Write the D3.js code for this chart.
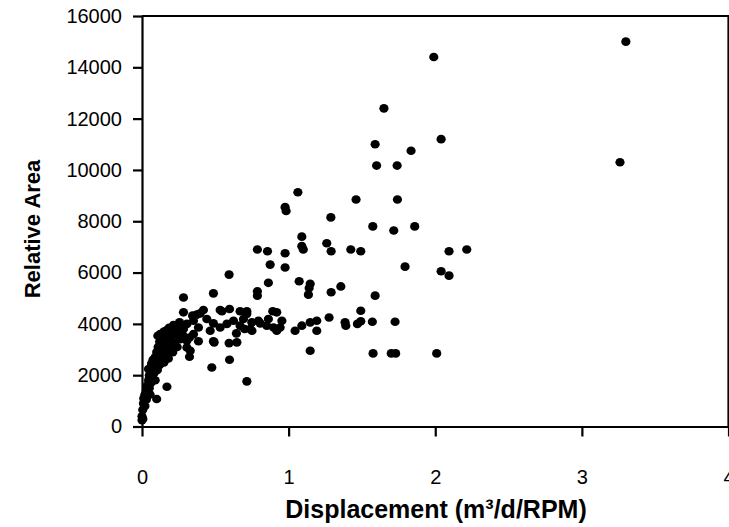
<!DOCTYPE html>
<html>
<head>
<meta charset="utf-8">
<script src="https://cdn.jsdelivr.net/npm/d3@7"></script>
<style>
  html, body { margin: 0; padding: 0; background: #fff; }
  svg { display: block; }
  text { font-family: "Liberation Sans", Arial, sans-serif; }
</style>
</head>
<body>
<svg id="chart" width="729" height="527"></svg>
<script>
// ---- data ----
const xTicks = [0, 1, 2, 3, 4];
const yTicks = [0, 2000, 4000, 6000, 8000, 10000, 12000, 14000, 16000];
const xTitle = "Displacement (m³/d/RPM)";
const yTitle = "Relative Area";

const displacement = [
  3.30, 3.26, 1.99, 1.65, 1.59, 1.835, 2.04, 1.60, 1.74, 1.063,
  1.46, 1.742, 0.976, 0.983, 1.288, 1.574, 1.717, 1.86, 1.09, 1.09,
  1.10, 0.976, 1.26, 1.29, 1.424, 1.492, 2.094, 2.215, 0.976, 1.794,
  2.04, 2.094, 1.072, 1.147, 1.140, 1.135, 1.29, 1.356, 1.59, 0.954,
  0.942, 1.044, 1.09, 1.147, 1.192, 1.192, 1.276, 1.385, 1.39, 1.469,
  1.492, 1.492, 1.571, 1.726, 1.147, 1.576, 1.70, 1.73, 2.01,
  0.787, 0.856, 0.874, 0.594, 0.862, 0.283, 0.487, 0.787, 0.787, 0.283,
  0.397, 0.419, 0.533, 0.597, 0.669, 0.715, 0.892, 0.919, 0.492, 0.594,
  0.647, 0.597, 0.476, 0.715, 0.324, 0.329, 0.385, 0.306, 0.17, 0.10,
  0.124, 0.17, 0.044, 0.0,
  0.374, 0.545, 0.715, 0.794, 0.851, 0.919, 0.306, 0.351, 0.442, 0.487,
  0.533, 0.579, 0.624, 0.669, 0.692, 0.738, 0.749, 0.283, 0.351, 0.385,
  0.487, 0.306, 0.465, 0.256, 0.108, 0.345, 0.862, 0.897, 0.806, 0.75,
  0.70, 0.644, 0.222, 0.324, 0.085, 0.006,
  0.0, 0.005, 0.01, 0.012, 0.02, 0.02, 0.03, 0.03, 0.035, 0.04,
  0.045, 0.05, 0.05, 0.055, 0.06, 0.06, 0.065, 0.07, 0.075, 0.08,
  0.08, 0.09, 0.09, 0.10, 0.10, 0.105, 0.11, 0.115, 0.12, 0.12,
  0.13, 0.13, 0.14, 0.14, 0.15, 0.15, 0.155, 0.16, 0.165, 0.17,
  0.175, 0.18, 0.185, 0.19, 0.20, 0.20, 0.21, 0.215, 0.22, 0.23,
  0.24, 0.25, 0.26, 0.27, 0.28
];
const relativeArea = [
  15000, 10300, 14400, 12400, 11000, 10750, 11200, 10170, 10170, 9130,
  8850, 8850, 8550, 8400, 8150, 7800, 7640, 7800, 7400, 7030,
  6900, 6750, 7140, 6830, 6900, 6830, 6830, 6900, 6200, 6230,
  6050, 5880, 5660, 5560, 5400, 5140, 5230, 5460, 5100, 4120,
  3860, 3730, 3930, 4060, 4120, 3730, 4250, 4060, 3930, 4000,
  4510, 4100, 4080, 4080, 2950, 2850, 2850, 2850, 2850,
  6900, 6830, 6310, 5920, 5600, 5030, 5190, 5270, 5100, 4450,
  4410, 4540, 4540, 4580, 4490, 4490, 4490, 4450, 3280, 3250,
  3280, 2600, 2300, 1760, 2720, 2950, 3860, 3080, 1550, 1070,
  3600, 3760, 2240, 250,
  4360, 4490, 4390, 4120, 3930, 3730, 4000, 4120, 4190, 4020,
  3860, 4000, 4120, 3930, 4190, 3800, 4060, 3800, 3600, 3320,
  3320, 3340, 3730, 4060, 3540, 4320, 4190, 3860, 4020, 3730,
  3800, 3630, 3670, 3470, 2110, 290,
  400, 650, 900, 1100, 1250, 800, 1400, 1050, 1600, 1300,
  1800, 1500, 2000, 1250, 1700, 2200, 2450, 1900, 2600, 2100,
  2350, 2700, 1800, 2500, 2900, 2200, 3100, 2650, 3300, 2400,
  2900, 3500, 3150, 2700, 3700, 2500, 3000, 3350, 2800, 3550,
  3200, 2650, 3850, 3000, 3400, 3700, 2900, 3950, 3250, 3600,
  3100, 3800, 3400, 3950, 3550
];

// ---- layout ----
const svg = d3.select("#chart");
const mLeft = 142, mRight = 728.5, mTop = 16, mBottom = 426.5;

const x = d3.scaleLinear().domain([0, 4]).range([mLeft, mRight]);
const y = d3.scaleLinear().domain([0, 16000]).range([mBottom, mTop]);

// frame (top & right)
svg.append("path")
  .attr("d", `M${mLeft},${mTop}H${mRight}V${mBottom}`)
  .attr("fill", "none").attr("stroke", "#000").attr("stroke-width", 2.2);

// points
const pts = displacement.map((d, i) => ({ x: d, y: relativeArea[i] }));
svg.append("g").selectAll("ellipse").data(pts).join("ellipse")
  .attr("cx", d => x(d.x)).attr("cy", d => y(d.y))
  .attr("rx", 4.6).attr("ry", 4.3)
  .attr("fill", "#000");

// axes
const yAxis = svg.append("g").attr("transform", `translate(${mLeft},0)`)
  .call(d3.axisLeft(y).tickValues(yTicks).tickFormat(d3.format("d")).tickSize(9).tickSizeOuter(0).tickPadding(11));
const xAxis = svg.append("g").attr("transform", `translate(0,${mBottom})`)
  .call(d3.axisBottom(x).tickValues(xTicks).tickFormat(d3.format("d")).tickSize(10).tickSizeOuter(0).tickPadding(33));

[yAxis, xAxis].forEach(g => {
  g.select(".domain").attr("stroke", "#000").attr("stroke-width", 2.2);
  g.selectAll(".tick line").attr("stroke", "#000").attr("stroke-width", 2.2);
  g.selectAll(".tick text").attr("fill", "#000")
    .style("font-family", "'Liberation Sans', Arial, sans-serif").style("font-size", "20px");
});

// titles
svg.append("text")
  .attr("x", 436).attr("y", 518)
  .attr("text-anchor", "middle")
  .style("font-size", "25px").style("font-weight", "bold")
  .text(xTitle);

svg.append("text")
  .attr("transform", `translate(40,229) rotate(-90)`)
  .attr("text-anchor", "middle")
  .style("font-size", "22px").style("font-weight", "bold")
  .text(yTitle);
</script>
</body>
</html>
